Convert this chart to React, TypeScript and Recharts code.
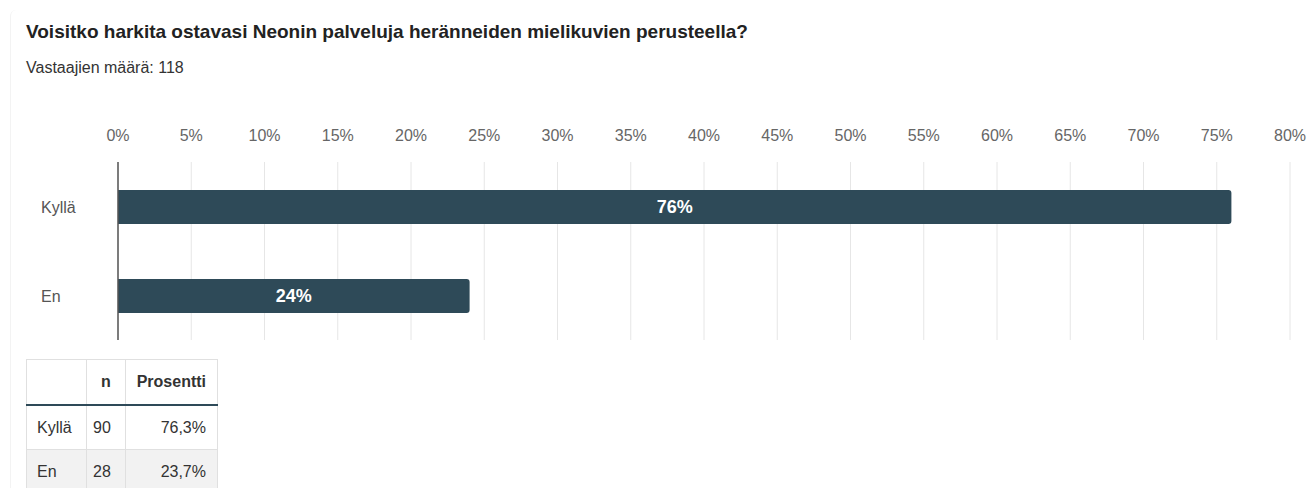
import { BarChart, Bar, XAxis, YAxis, CartesianGrid, LabelList } from "recharts";

const categories = ["Kyllä", "En"];
const percents = [76, 24];
const counts = [90, 28];
const tablePercents = ["76,3%", "23,7%"];
const xTicks = [0, 5, 10, 15, 20, 25, 30, 35, 40, 45, 50, 55, 60, 65, 70, 75, 80];

const data = categories.map((c, i) => ({ name: c, value: percents[i] }));

const FONT = '"Liberation Sans", Arial, Helvetica, sans-serif';
const BAR = "#2e4a58";

function XTick({ x, payload }: any) {
  return (
    <text x={x} y={141} textAnchor="middle" fontSize={16} fill="#666" fontFamily={FONT}>
      {`${payload.value}%`}
    </text>
  );
}

function YTick({ y, payload }: any) {
  return (
    <text x={41} y={y} dy={6} textAnchor="start" fontSize={16} fill="#555" fontFamily={FONT}>
      {payload.value}
    </text>
  );
}

const cell: React.CSSProperties = {
  border: "1px solid #e0e0e0",
  padding: "0 6px",
  height: 43,
  fontSize: 16,
  color: "#333",
  fontFamily: FONT,
};

export default function App() {
  return (
    <div
      style={{
        position: "absolute",
        left: 0,
        top: 0,
        width: 1312,
        height: 488,
        overflow: "hidden",
        background: "#fff",
        fontFamily: FONT,
      }}
    >
      <div
        style={{
          position: "absolute",
          left: 10,
          top: 10,
          width: 1400,
          height: 600,
          borderLeft: "1px solid #f3f3f3",
          borderTopLeftRadius: 6,
        }}
      />
      <div
        style={{
          position: "absolute",
          left: 26,
          top: 21,
          fontSize: 19,
          fontWeight: "bold",
          color: "#222",
          whiteSpace: "nowrap",
        }}
      >
        Voisitko harkita ostavasi Neonin palveluja heränneiden mielikuvien perusteella?
      </div>
      <div style={{ position: "absolute", left: 26, top: 59, fontSize: 16, color: "#333", whiteSpace: "nowrap" }}>
        Vastaajien määrä: 118
      </div>
      <div style={{ position: "absolute", left: 0, top: 0 }}>
        <BarChart
          width={1312}
          height={340}
          data={data}
          layout="vertical"
          margin={{ top: 132, right: 22, left: 0, bottom: 0 }}
          barSize={34}
        >
          <CartesianGrid horizontal={false} vertical={true} stroke="#e6e6e6" />
          <XAxis
            type="number"
            orientation="top"
            domain={[0, 80]}
            ticks={xTicks}
            tick={<XTick />}
            axisLine={false}
            tickLine={false}
            height={30}
            interval={0}
          />
          <YAxis
            type="category"
            dataKey="name"
            width={118}
            tick={<YTick />}
            tickLine={false}
            axisLine={{ stroke: "#555", strokeWidth: 1.5 }}
          />
          <Bar dataKey="value" fill={BAR} radius={[0, 3, 3, 0]} isAnimationActive={false}>
            <LabelList
              dataKey="value"
              position="center"
              formatter={(v: any) => `${v}%`}
              fill="#fff"
              fontSize={18}
              fontWeight="bold"
              fontFamily={FONT}
            />
          </Bar>
        </BarChart>
      </div>
      <table
        style={{
          position: "absolute",
          left: 26,
          top: 359,
          borderCollapse: "collapse",
          tableLayout: "fixed",
        }}
      >
        <colgroup>
          <col style={{ width: 60 }} />
          <col style={{ width: 39 }} />
          <col style={{ width: 92 }} />
        </colgroup>
        <thead>
          <tr>
            <th style={{ ...cell, height: 44, borderBottom: `2px solid ${BAR}` }} />
            <th style={{ ...cell, height: 44, borderBottom: `2px solid ${BAR}`, textAlign: "center", fontWeight: "bold" }}>
              n
            </th>
            <th
              style={{
                ...cell,
                height: 44,
                borderBottom: `2px solid ${BAR}`,
                textAlign: "right",
                fontWeight: "bold",
                paddingRight: 11,
              }}
            >
              Prosentti
            </th>
          </tr>
        </thead>
        <tbody>
          {categories.map((c, i) => (
            <tr key={c} style={{ background: i % 2 === 1 ? "#f2f2f2" : "#fff" }}>
              <td style={{ ...cell, textAlign: "left", paddingLeft: 10 }}>{c}</td>
              <td style={{ ...cell, textAlign: "left" }}>{counts[i]}</td>
              <td style={{ ...cell, textAlign: "right", paddingRight: 11 }}>{tablePercents[i]}</td>
            </tr>
          ))}
        </tbody>
      </table>
    </div>
  );
}
